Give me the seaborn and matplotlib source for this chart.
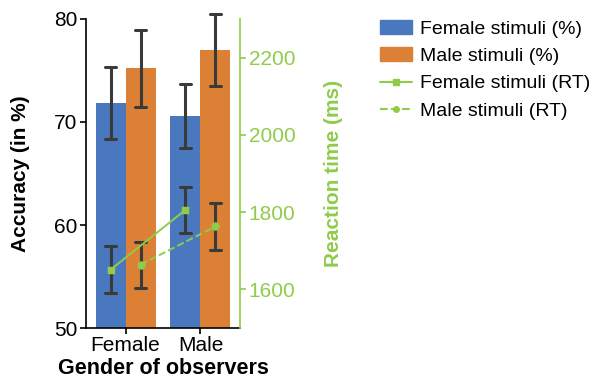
import numpy as np
import pandas as pd
import matplotlib
matplotlib.use("Agg")
import matplotlib.pyplot as plt
import seaborn as sns
from matplotlib.patches import Patch
from matplotlib.lines import Line2D

observers = ["Female", "Male"]
stimuli = ["Female stimuli", "Male stimuli"]
# accuracy (%) mean and SE, [observer][stimulus]
acc_mean = [[71.8, 75.2], [70.6, 77.0]]
acc_se = [[3.5, 3.7], [3.1, 3.5]]
# reaction time (ms) mean and SE
rt_mean = [[1651, 1664], [1806, 1763]]
rt_se = [[61, 60], [60, 61]]

blue = "#4a78be"
orange = "#dc8035"
green = "#8fcc4a"
errc = "#3a3a3a"

sns.set_style("ticks", {"text.color": "black", "axes.labelcolor": "black",
                        "xtick.color": "black", "ytick.color": "black",
                        "axes.edgecolor": "black"})
plt.rcParams['font.family'] = ['Liberation Sans', 'DejaVu Sans']

# rows hold mean-se and mean+se, so the mean is kept and the interval is min..max
rows = []
for i, ob in enumerate(observers):
    for j, st in enumerate(stimuli):
        for s in (-1, 1):
            rows.append({"obs": ob, "stim": st,
                         "acc": acc_mean[i][j] + s * acc_se[i][j],
                         "rt": rt_mean[i][j] + s * rt_se[i][j]})
df = pd.DataFrame(rows)
span = lambda v: (v.min(), v.max())

fig = plt.figure(figsize=(5.96, 3.78), dpi=100)
ax = fig.add_axes([0.144, 0.132, 0.259, 0.818])
sns.barplot(data=df, x="obs", y="acc", hue="stim", palette=[blue, orange],
            errorbar=span, capsize=0.3, width=0.8, saturation=1, linewidth=0,
            err_kws={"color": errc, "linewidth": 2.2}, legend=False, ax=ax)
for ln in ax.lines:
    ln.set_clip_on(False)
ax.set_ylim(50, 80)
ax.set_yticks([50, 60, 70, 80])
ax.set_xlim(-0.53, 1.53)
ax.set_xlabel("Gender of observers", fontsize=15.5, fontweight="bold", labelpad=2)
ax.set_ylabel("Accuracy (in %)", fontsize=15, fontweight="bold")
ax.yaxis.set_label_coords(-0.36, 0.5)
ax.tick_params(axis="both", labelsize=15, width=1.2, length=4, color="black", pad=2)
ax.spines["top"].set_visible(False)
ax.spines["right"].set_visible(False)
for sp in ("left", "bottom"):
    ax.spines[sp].set_linewidth(1.2)

ax2 = ax.twinx()
sns.pointplot(data=df, x="obs", y="rt", hue="stim", palette=[green, green],
              errorbar=span, capsize=0.15, dodge=0.4, markers=["s", "o"],
              linestyles=["-", "--"], markersize=5, linewidth=1.4,
              err_kws={"color": errc, "linewidth": 2.2}, legend=False, ax=ax2)
for ln in ax2.lines:
    ln.set_clip_on(False)
    if ln.get_marker() not in (None, "None", "", " "):
        ln.set_zorder(5)
ax2.set_ylim(1500, 2300)
ax2.set_yticks([1600, 1800, 2000, 2200])
ax2.set_xlim(-0.53, 1.53)
ax2.set_ylabel("Reaction time (ms)", fontsize=15, fontweight="bold", color=green)
ax2.yaxis.set_label_coords(1.54, 0.5)
ax2.tick_params(axis="y", labelsize=15, colors=green, width=1.2, length=4, pad=2)
ax2.spines["right"].set_color(green)
ax2.spines["right"].set_linewidth(1.2)
ax2.spines["top"].set_visible(False)
ax2.spines["left"].set_visible(False)
ax2.spines["bottom"].set_visible(False)

handles = [Patch(color=blue), Patch(color=orange),
           Line2D([], [], color=green, marker="s", markersize=4, linestyle="-"),
           Line2D([], [], color=green, marker="o", markersize=4, linestyle="--")]
labels = ["Female stimuli (%)", "Male stimuli (%)",
          "Female stimuli (RT)", "Male stimuli (RT)"]
fig.legend(handles, labels, loc="upper left", bbox_to_anchor=(0.638, 0.947),
           frameon=False, fontsize=14, handlelength=1.65, labelspacing=0.5,
           handletextpad=0.4, borderpad=0, borderaxespad=0)

fig.savefig("out.png", dpi=100)
